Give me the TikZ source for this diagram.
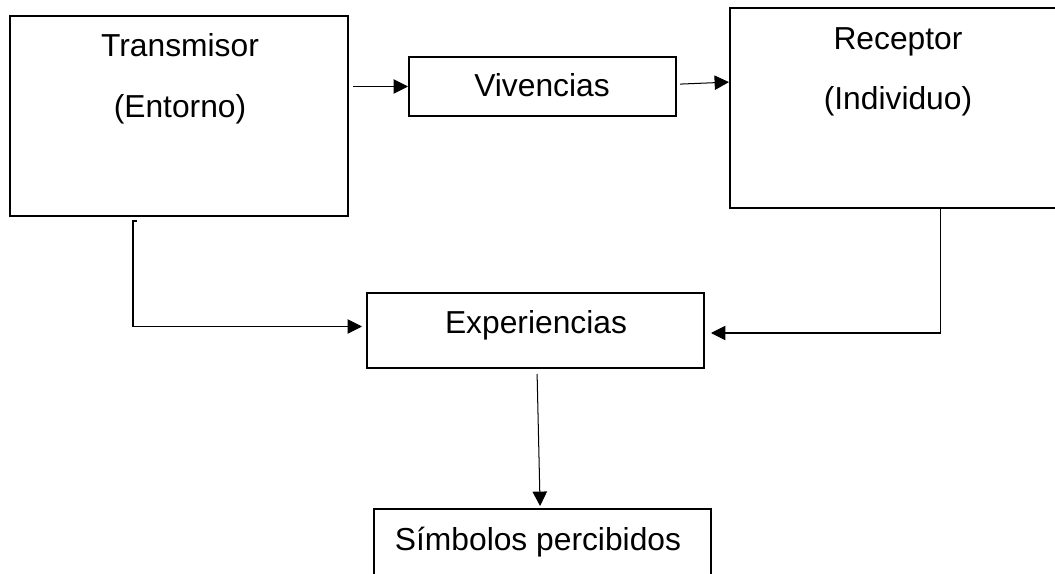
\documentclass[tikz,border=0pt]{standalone}
\usepackage{fontspec}
\setmainfont{Liberation Sans}
\usepackage{tikz}
\usetikzlibrary{arrows.meta}

\begin{document}
\begin{tikzpicture}
        \tikzset{>={Triangle[length=0.36cm,width=0.36cm]}}
        \tikzstyle{box}=[draw=black,line width=0.05cm,rectangle,inner sep=0pt]
        \tikzstyle{lbl}=[anchor=base,inner sep=0pt,font=\fontsize{22.6pt}{27pt}\selectfont]
        \tikzstyle{conn}=[->,line width=0.72pt]

        \clip (0,0) rectangle (26.375,-14.35);

        % boxes
        \node[box,minimum width=8.45cm,minimum height=5cm] (trans) at (4.475,-2.9) {};
        \node[box,minimum width=6.675cm,minimum height=1.475cm] (viv) at (13.5625,-2.1625) {};
        \node[box,minimum width=8.4cm,minimum height=5cm] (rec) at (22.45,-2.7) {};
        \node[box,minimum width=8.425cm,minimum height=1.875cm] (exp) at (13.3875,-8.2625) {};
        \node[box,minimum width=8.425cm,minimum height=2cm] (sym) at (13.5625,-13.725) {};

        % texts
        \node[lbl] (transA) at (4.5,-1.425) {Transmisor};
        \node[lbl] (transB) at (4.5,-2.95) {(Entorno)};
        \node[lbl] (vivA) at (13.55,-2.425) {Vivencias};
        \node[lbl] (recA) at (22.45,-1.25) {Receptor};
        \node[lbl] (recB) at (22.45,-2.75) {(Individuo)};
        \node[lbl] (expA) at (13.4,-8.325) {Experiencias};
        \node[lbl] (symA) at (13.45,-13.75) {Símbolos percibidos};

        \coordinate (tA) at (3.325,-5.525);
        \coordinate (rA) at (23.5,-5.2);

        \draw[conn] ([xshift=0.1cm]trans.east |- viv.west) -- (viv.west);
        \draw[conn] ([xshift=0.075cm,yshift=0.06cm]viv.east) -- ([yshift=0.11cm]rec.west |- viv.east);
        \draw[conn] ([xshift=0.1cm]tA) -- (tA) |- ([xshift=-0.1cm,yshift=0.1cm]exp.west);
        \draw[conn] ([xshift=-0.45cm]rA) -- (rA) |- ([xshift=0.15cm,yshift=-0.0625cm]exp.east);
        \draw[conn] ([xshift=0.04cm,yshift=-0.125cm]exp.south) -- ([xshift=-0.06cm,yshift=0.05cm]sym.north);
\end{tikzpicture}
\end{document}
